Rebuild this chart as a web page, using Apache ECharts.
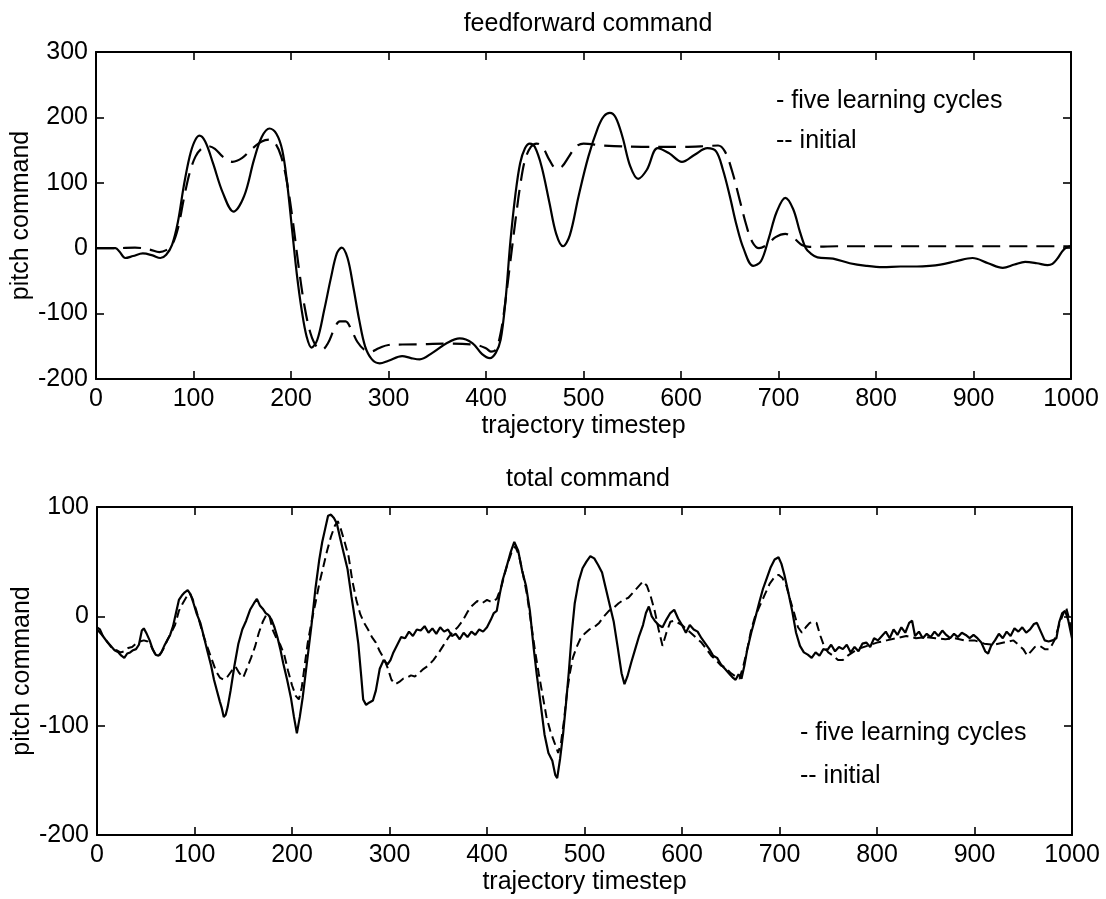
<!DOCTYPE html>
<html>
<head>
<meta charset="utf-8">
<script src="https://cdn.jsdelivr.net/npm/echarts@6/dist/echarts.min.js"></script>
<style>
html,body{margin:0;padding:0;background:#fff;}
#chart{width:1106px;height:899px;}
</style>
</head>
<body>
<div id="chart"></div>
<script>
// ---------- data ----------
const xTicks = [0,100,200,300,400,500,600,700,800,900,1000];
const topYTicks = [-200,-100,0,100,200,300];
const botYTicks = [-200,-100,0,100];

const seriesNames = ['- five learning cycles', '-- initial'];
const titles = ['feedforward command', 'total command'];

// feedforward command, five learning cycles (solid)
const ffLearnedT = [0,10,20,24,30,38,48,58,66,72,78,84,90,96,101,106,112,120,130,141,152,162,170,178,185,191,196,201,206,211,216,221,227,234,241,247,252,258,264,270,276,283,291,300,314,323,332,345,360,373,386,396,404,410,415,420,425,430,435,440,445,450,457,465,472,479,486,495,505,515,521,527,533,540,548,556,565,576,588,601,614,627,636,643,650,657,664,674,682,690,698,707,715,722,728,733,740,756,773,790,807,825,842,855,866,882,899,915,930,942,953,965,976,981,986,992,997,1000];
const ffLearnedV = [0,0,0,-5,-15,-12,-8,-11,-15,-10,5,40,95,140,163,172,163,130,85,56,80,135,170,183,175,150,100,30,-40,-95,-135,-152,-140,-95,-45,-8,1,-15,-60,-110,-150,-170,-176,-172,-165,-168,-170,-160,-145,-138,-145,-162,-168,-160,-140,-80,10,80,130,153,160,155,125,70,22,3,20,80,140,185,202,207,200,170,125,106,120,153,145,132,143,153,148,120,80,35,0,-27,-20,15,55,77,60,25,0,-8,-14,-16,-23,-27,-29,-28,-28,-27,-25,-20,-15,-23,-30,-25,-21,-23,-26,-24,-16,-3,2,3];

// feedforward command, initial (dashed)
const ffInitialT = [0,20,40,55,65,72,78,84,90,96,102,108,115,122,130,140,150,160,170,178,184,190,196,202,208,214,220,226,232,238,244,250,256,262,268,275,282,290,300,330,360,390,400,405,410,415,420,425,430,435,440,446,452,458,465,472,478,485,492,500,520,560,600,625,638,645,652,660,667,673,680,688,697,707,716,724,732,760,1000];
const ffInitialV = [0,0,1,-2,-6,-3,5,30,75,115,140,152,156,152,140,132,138,152,163,166,160,140,100,40,-30,-90,-130,-150,-155,-145,-125,-112,-112,-125,-143,-155,-158,-153,-148,-147,-146,-148,-153,-158,-155,-130,-80,-20,40,95,135,155,160,155,135,122,125,140,155,160,157,155,155,156,157,148,120,75,35,10,0,5,17,22,15,5,2,3,3];

// total command, five learning cycles (solid)
const totLearnedT = [0,3,6,10,14,18,22,25,28,31,34,37,40,43,46,48,51,54,57,60,63,66,69,72,75,78,81,84,87,90,93,96,99,102,106,110,113,117,120,123,126,128,130,132,134,137,141,145,149,153,157,161,164,167,170,173,176,179,182,185,188,191,195,199,202,205,208,211,214,217,220,224,228,231,234,237,240,243,246,249,253,257,261,265,268,271,273,276,279,283,286,290,294,298,301,304,308,312,316,320,324,328,332,336,340,344,348,352,356,360,364,368,372,376,380,384,388,392,396,400,404,407,410,413,416,420,424,428,432,436,440,444,448,451,455,459,463,467,470,472,475,478,481,484,487,490,494,498,502,506,510,514,518,522,526,530,534,538,541,544,548,552,556,560,563,566,569,572,576,580,584,588,592,596,600,604,608,612,616,620,624,628,632,636,640,644,648,652,655,658,661,664,667,671,675,679,683,687,691,695,699,702,705,709,713,717,721,725,729,733,737,741,745,749,753,757,761,765,769,773,777,781,785,789,793,797,801,805,809,813,817,821,825,829,833,836,839,843,847,851,855,859,863,867,871,875,879,883,887,891,895,899,903,907,911,914,917,921,925,929,933,937,941,945,949,953,957,961,964,968,972,976,980,984,987,990,993,996,1000];
const totLearnedV = [-10,-12,-18,-23,-27,-31,-33,-36,-38,-34,-33,-31,-30,-26,-13,-11,-16,-22,-30,-35,-36,-33,-27,-22,-17,-9,3,15,19,22,24,20,12,3,-6,-20,-31,-45,-58,-68,-78,-84,-92,-90,-83,-68,-45,-25,-12,-4,6,12,16,10,7,3,1,-3,-10,-19,-30,-43,-58,-75,-92,-107,-92,-74,-52,-30,-8,25,52,68,80,92,93,90,85,73,58,43,18,-5,-25,-55,-76,-81,-79,-77,-68,-48,-40,-44,-40,-33,-26,-19,-20,-14,-18,-12,-13,-9,-15,-11,-16,-10,-14,-12,-18,-16,-21,-15,-19,-14,-17,-12,-14,-10,-3,3,5,20,33,45,58,68,60,42,28,5,-30,-53,-80,-108,-125,-132,-145,-148,-130,-108,-80,-50,-15,12,32,44,50,55,53,47,40,25,10,-5,-28,-52,-62,-55,-42,-30,-18,-8,3,9,0,-4,-8,-10,-3,3,6,-2,-8,-15,-8,-12,-14,-20,-25,-30,-36,-38,-44,-48,-52,-56,-58,-53,-57,-45,-30,-15,-2,12,25,35,45,52,54,48,38,22,5,-15,-27,-33,-35,-38,-33,-36,-30,-31,-26,-32,-28,-30,-26,-33,-28,-32,-25,-24,-28,-20,-22,-18,-14,-20,-12,-17,-10,-15,-6,-4,-18,-14,-20,-16,-19,-14,-18,-13,-17,-20,-16,-19,-15,-17,-20,-17,-20,-24,-32,-34,-27,-22,-16,-20,-14,-18,-11,-14,-10,-15,-12,-7,-6,-14,-22,-23,-22,-20,-5,3,5,-3,-20];

// total command, initial (dashed)
const totInitialT = [0,4,8,12,16,20,24,28,32,36,40,44,48,52,56,60,64,68,72,76,80,84,88,92,95,98,102,106,110,114,118,122,126,130,134,138,142,146,150,154,158,162,166,170,174,177,180,184,188,192,196,200,204,207,210,213,216,220,224,228,232,236,240,244,247,250,254,258,262,266,270,274,278,282,286,290,294,298,302,306,310,314,318,322,326,330,335,340,345,350,355,360,365,370,375,380,385,390,395,400,405,410,415,420,425,429,433,437,441,445,449,453,457,461,465,469,473,476,479,482,485,488,492,496,500,505,510,515,520,525,530,535,540,545,550,555,560,564,568,572,576,580,584,588,592,596,600,605,610,615,620,625,630,635,640,645,650,655,659,663,667,671,675,680,685,690,695,699,703,707,711,715,719,723,727,731,735,738,742,746,750,755,760,765,770,775,780,790,800,810,820,830,840,850,860,870,880,890,900,910,920,930,940,950,954,958,962,967,972,977,982,986,990,994,997,1000];
const totInitialV = [-12,-16,-20,-25,-30,-31,-33,-32,-29,-28,-25,-23,-22,-23,-28,-35,-36,-30,-22,-15,-8,5,12,18,21,16,5,-8,-20,-30,-40,-50,-56,-58,-55,-50,-46,-52,-56,-47,-38,-28,-15,-5,2,0,-12,-20,-26,-35,-50,-63,-73,-76,-65,-45,-25,-5,12,30,45,60,73,83,87,80,68,55,32,15,2,-6,-12,-19,-24,-32,-38,-47,-58,-62,-60,-57,-56,-54,-55,-52,-48,-45,-40,-34,-27,-20,-14,-10,-4,4,10,14,12,15,13,16,28,45,58,64,55,38,20,-5,-30,-52,-72,-92,-105,-115,-125,-115,-95,-70,-52,-38,-28,-20,-16,-12,-10,-6,0,5,8,12,15,17,22,27,32,28,18,5,-12,-27,-15,-5,-4,-6,-8,-12,-16,-20,-24,-30,-36,-40,-45,-47,-52,-55,-57,-45,-30,-12,0,10,20,30,36,38,35,28,15,3,-10,-15,-10,-6,-5,-6,-18,-28,-33,-36,-40,-40,-36,-33,-30,-27,-24,-22,-20,-18,-20,-19,-20,-21,-20,-22,-22,-25,-26,-24,-22,-30,-36,-32,-28,-27,-30,-30,-22,-10,0,8,-2,-18];

const pair = (ts, vs) => ts.map((t, i) => [t, vs[i]]);

// ---------- chart ----------
const FONT = 'Liberation Sans, Arial, Helvetica, sans-serif';
const FS = 25;
const chart = echarts.init(document.getElementById('chart'), null, {renderer: 'canvas'});

function xAx(grid, pos, labels) {
  return {
    type: 'value', gridIndex: grid, position: pos, min: 0, max: 1000, interval: 100,
    axisLine: {show: true, onZero: false, lineStyle: {color: '#000', width: 2}},
    axisTick: {show: true, inside: true, length: 8, lineStyle: {color: '#000', width: 1.6}},
    axisLabel: {show: labels, color: '#000', fontFamily: FONT, fontSize: FS, margin: 8,
                formatter: v => String(v)},
    splitLine: {show: false},
    name: labels ? 'trajectory timestep' : '',
    nameLocation: 'middle', nameGap: 35, nameMoveOverlap: false,
    nameTextStyle: {color: '#000', fontFamily: FONT, fontSize: FS}
  };
}
function yAx(grid, pos, labels, min, max) {
  return {
    type: 'value', gridIndex: grid, position: pos, min: min, max: max, interval: 100,
    axisLine: {show: true, onZero: false, lineStyle: {color: '#000', width: 2}},
    axisTick: {show: true, inside: true, length: 8, lineStyle: {color: '#000', width: 1.6}},
    axisLabel: {show: labels, color: '#000', fontFamily: FONT, fontSize: FS, margin: 8,
                formatter: v => String(v)},
    splitLine: {show: false},
    name: labels ? 'pitch command' : '',
    nameLocation: 'middle', nameGap: 62, nameMoveOverlap: false,
    nameTextStyle: {color: '#000', fontFamily: FONT, fontSize: FS}
  };
}

const solid = {color: '#000', width: 2.2, type: 'solid'};
const dashTop = {color: '#000', width: 2.2, type: [18, 9]};
const dashBot = {color: '#000', width: 2, type: [9, 5]};

const option = {
  backgroundColor: '#fff',
  animation: false,
  title: [
    {text: titles[0], left: 583, top: 7, textAlign: 'center',
     textStyle: {color: '#000', fontFamily: FONT, fontSize: FS, fontWeight: 'normal'}},
    {text: titles[1], left: 583, top: 462, textAlign: 'center',
     textStyle: {color: '#000', fontFamily: FONT, fontSize: FS, fontWeight: 'normal'}}
  ],
  legend: [
    {data: seriesNames, orient: 'vertical', left: 766, top: 84, icon: 'none', itemWidth: 0, itemGap: 15,
     selectedMode: false, textStyle: {color: '#000', fontFamily: FONT, fontSize: FS, padding: 0}},
    {data: seriesNames, orient: 'vertical', left: 790, top: 716, icon: 'none', itemWidth: 0, itemGap: 18,
     selectedMode: false, textStyle: {color: '#000', fontFamily: FONT, fontSize: FS, padding: 0}}
  ],
  grid: [
    {left: 96, top: 52, width: 975, height: 327, outerBoundsMode: 'none', containLabel: false},
    {left: 97, top: 507, width: 975, height: 328, outerBoundsMode: 'none', containLabel: false}
  ],
  xAxis: [xAx(0, 'bottom', true), xAx(0, 'top', false), xAx(1, 'bottom', true), xAx(1, 'top', false)],
  yAxis: [yAx(0, 'left', true, -200, 300), yAx(0, 'right', false, -200, 300),
          yAx(1, 'left', true, -200, 100), yAx(1, 'right', false, -200, 100)],
  series: [
    {name: seriesNames[0], type: 'line', xAxisIndex: 0, yAxisIndex: 0, data: pair(ffLearnedT, ffLearnedV),
     showSymbol: false, smooth: 0.35, lineStyle: solid, itemStyle: {color: '#000'}},
    {name: seriesNames[1], type: 'line', xAxisIndex: 0, yAxisIndex: 0, data: pair(ffInitialT, ffInitialV),
     showSymbol: false, smooth: 0.35, lineStyle: dashTop, itemStyle: {color: '#000'}},
    {name: seriesNames[0], type: 'line', xAxisIndex: 2, yAxisIndex: 2, data: pair(totLearnedT, totLearnedV),
     showSymbol: false, smooth: false, lineStyle: solid, itemStyle: {color: '#000'}},
    {name: seriesNames[1], type: 'line', xAxisIndex: 2, yAxisIndex: 2, data: pair(totInitialT, totInitialV),
     showSymbol: false, smooth: false, lineStyle: dashBot, itemStyle: {color: '#000'}}
  ]
};
chart.setOption(option);
</script>
</body>
</html>
